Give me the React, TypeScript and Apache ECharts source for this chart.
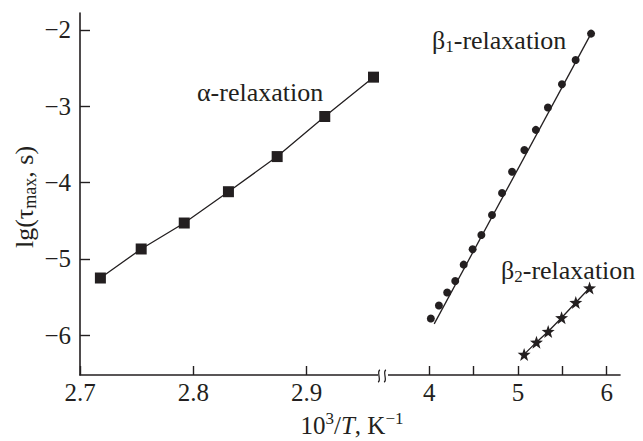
import React, { useEffect, useRef } from "react";
import * as echarts from "echarts";

// ---- data ----
const alphaX = [2.718, 2.754, 2.792, 2.831, 2.874, 2.916, 2.959];
const alphaY = [-5.25, -4.87, -4.53, -4.12, -3.66, -3.135, -2.62];

const beta1X = [4.019, 4.11, 4.203, 4.294, 4.389, 4.49, 4.588, 4.708, 4.821, 4.934, 5.073, 5.202, 5.338, 5.496, 5.65, 5.824];
const beta1Y = [-5.78, -5.61, -5.44, -5.29, -5.075, -4.873, -4.686, -4.425, -4.137, -3.859, -3.575, -3.31, -3.017, -2.712, -2.395, -2.05];

const beta1FitX = [4.057, 5.824];
const beta1FitY = [-5.85, -2.05];

const beta2X = [5.07, 5.209, 5.341, 5.492, 5.652, 5.807];
const beta2Y = [-6.25, -6.09, -5.95, -5.77, -5.57, -5.38];

const yTicks = [-6, -5, -4, -3, -2];
const xLeftTicks = [2.7, 2.8, 2.9];
const xRightTicks = [4, 4.5, 5, 5.5, 6];
const xRightLabels = [4, 5, 6];

const INK = "#231f20";
const FONT = "Liberation Serif";
const STAR = "path://M0,-10 L2.35,-3.24 L9.51,-3.09 L3.80,1.24 L5.88,8.09 L0,4 L-5.88,8.09 L-3.80,1.24 L-9.51,-3.09 L-2.35,-3.24 Z";

const zip = (xs: number[], ys: number[]) => xs.map((x, i) => [x, ys[i]]);

let registered = false;

export default function App() {
  const ref = useRef<HTMLDivElement>(null);
  useEffect(() => {
    if (!ref.current) return;
    if (!registered) {
      echarts.graphic.registerShape(
        "brk",
        echarts.graphic.extendPath(
          "M 1 -6 C -3 -5, 3 5, -1 6 M 7 -6 C 3 -5, 9 5, 5 6",
          {}
        ) as any
      );
      registered = true;
    }
    const chart = echarts.init(ref.current, null, { renderer: "svg" });
    const yMin = -6.52;
    const yMax = -1.78;
    const axisLine = { lineStyle: { color: INK, width: 1.6 } };
    const tickStyle = { lineStyle: { color: INK, width: 1.4 } };
    const labelBase = { color: INK, fontFamily: FONT, fontSize: 25 };
    const option: any = {
      animation: false,
      grid: [
        { left: 80, top: 13, width: 303, bottom: 66 },
        { left: 383, top: 13, width: 237, bottom: 66 },
      ],
      xAxis: [
        {
          type: "value",
          gridIndex: 0,
          min: 2.7,
          max: 2.9674,
          axisLine,
          axisTick: { show: true, inside: true, length: 9, customValues: xLeftTicks, ...tickStyle },
          axisLabel: {
            ...labelBase,
            margin: 5,
            customValues: xLeftTicks,
            formatter: (v: number) => v.toFixed(1),
          },
          splitLine: { show: false },
        },
        {
          type: "value",
          gridIndex: 1,
          min: 3.48,
          max: 6.15,
          axisLine,
          axisTick: { show: true, inside: true, length: 9, customValues: xRightTicks, ...tickStyle },
          axisLabel: {
            ...labelBase,
            margin: 5,
            customValues: xRightLabels,
            formatter: (v: number) => String(Math.round(v)),
          },
          splitLine: { show: false },
        },
      ],
      yAxis: [
        {
          type: "value",
          gridIndex: 0,
          min: yMin,
          max: yMax,
          axisLine: { show: true, ...axisLine },
          axisTick: { show: true, inside: true, length: 10, customValues: yTicks, ...tickStyle },
          axisLabel: {
            ...labelBase,
            margin: 9,
            customValues: yTicks,
            formatter: (v: number) => (v < 0 ? "\u2212" + Math.abs(v) : String(v)),
          },
          splitLine: { show: false },
        },
        {
          type: "value",
          gridIndex: 1,
          min: yMin,
          max: yMax,
          show: false,
          splitLine: { show: false },
        },
      ],
      series: [
        {
          type: "line",
          xAxisIndex: 0,
          yAxisIndex: 0,
          data: zip(alphaX, alphaY),
          symbol: "rect",
          symbolSize: 11,
          itemStyle: { color: INK, opacity: 1 },
          lineStyle: { color: INK, width: 1.3 },
        },
        {
          type: "line",
          xAxisIndex: 1,
          yAxisIndex: 1,
          data: zip(beta1FitX, beta1FitY),
          showSymbol: false,
          symbol: "none",
          lineStyle: { color: INK, width: 1.3 },
        },
        {
          type: "scatter",
          xAxisIndex: 1,
          yAxisIndex: 1,
          data: zip(beta1X, beta1Y),
          symbol: "circle",
          symbolSize: 8,
          itemStyle: { color: INK, opacity: 1 },
        },
        {
          type: "line",
          xAxisIndex: 1,
          yAxisIndex: 1,
          data: zip(beta2X, beta2Y),
          symbol: STAR,
          symbolSize: 13,
          itemStyle: { color: INK, opacity: 1 },
          lineStyle: { color: INK, width: 1.3 },
        },
      ],
      graphic: [
        { type: "rect", shape: { x: 378, y: 370, width: 10, height: 12 }, style: { fill: "#fff" }, z: 100 },
        { type: "brk", x: 379, y: 376, style: { stroke: INK, fill: "none", lineWidth: 1.3 }, z: 101 },
        {
          type: "text",
          x: 197,
          y: 92,
          style: {
            text: "α-relaxation",
            font: `26px "${FONT}"`,
            fill: INK,
            textAlign: "left",
            textVerticalAlign: "middle",
          },
        },
        {
          type: "text",
          x: 432,
          y: 40,
          style: {
            text: "{n|β}{s|1}{n|-relaxation}",
            fill: INK,
            textAlign: "left",
            textVerticalAlign: "middle",
            rich: {
              n: { fontFamily: FONT, fontSize: 26, color: INK, lineHeight: 30 },
              s: { fontFamily: FONT, fontSize: 17, color: INK, lineHeight: 30, verticalAlign: "bottom", padding: [12, 0, 0, 0] },
            },
          },
        },
        {
          type: "text",
          x: 501,
          y: 270,
          style: {
            text: "{n|β}{s|2}{n|-relaxation}",
            fill: INK,
            textAlign: "left",
            textVerticalAlign: "middle",
            rich: {
              n: { fontFamily: FONT, fontSize: 26, color: INK, lineHeight: 30 },
              s: { fontFamily: FONT, fontSize: 17, color: INK, lineHeight: 30, verticalAlign: "bottom", padding: [12, 0, 0, 0] },
            },
          },
        },
        {
          type: "text",
          x: 352,
          y: 425,
          style: {
            text: "{n|10}{p|3}{n|/}{i|T}{n|, K}{p|\u22121}",
            fill: INK,
            textAlign: "center",
            textVerticalAlign: "middle",
            rich: {
              n: { fontFamily: FONT, fontSize: 25, color: INK, lineHeight: 30 },
              i: { fontFamily: FONT, fontSize: 25, fontStyle: "italic", color: INK, lineHeight: 30 },
              p: { fontFamily: FONT, fontSize: 17, color: INK, lineHeight: 30, verticalAlign: "top", padding: [0, 0, 10, 0] },
            },
          },
        },
        {
          type: "text",
          x: 24,
          y: 197,
          rotation: Math.PI / 2,
          style: {
            text: "{n|lg(τ}{s|max}{n|, s)}",
            fill: INK,
            textAlign: "center",
            textVerticalAlign: "middle",
            rich: {
              n: { fontFamily: FONT, fontSize: 26, color: INK, lineHeight: 30 },
              s: { fontFamily: FONT, fontSize: 18, color: INK, lineHeight: 30, verticalAlign: "bottom", padding: [12, 0, 0, 0] },
            },
          },
        },
      ],
    };
    chart.setOption(option);
    return () => chart.dispose();
  }, []);
  return (
    <div
      ref={ref}
      style={{ position: "fixed", left: 0, top: 0, width: 643, height: 441, background: "#fff" }}
    />
  );
}
